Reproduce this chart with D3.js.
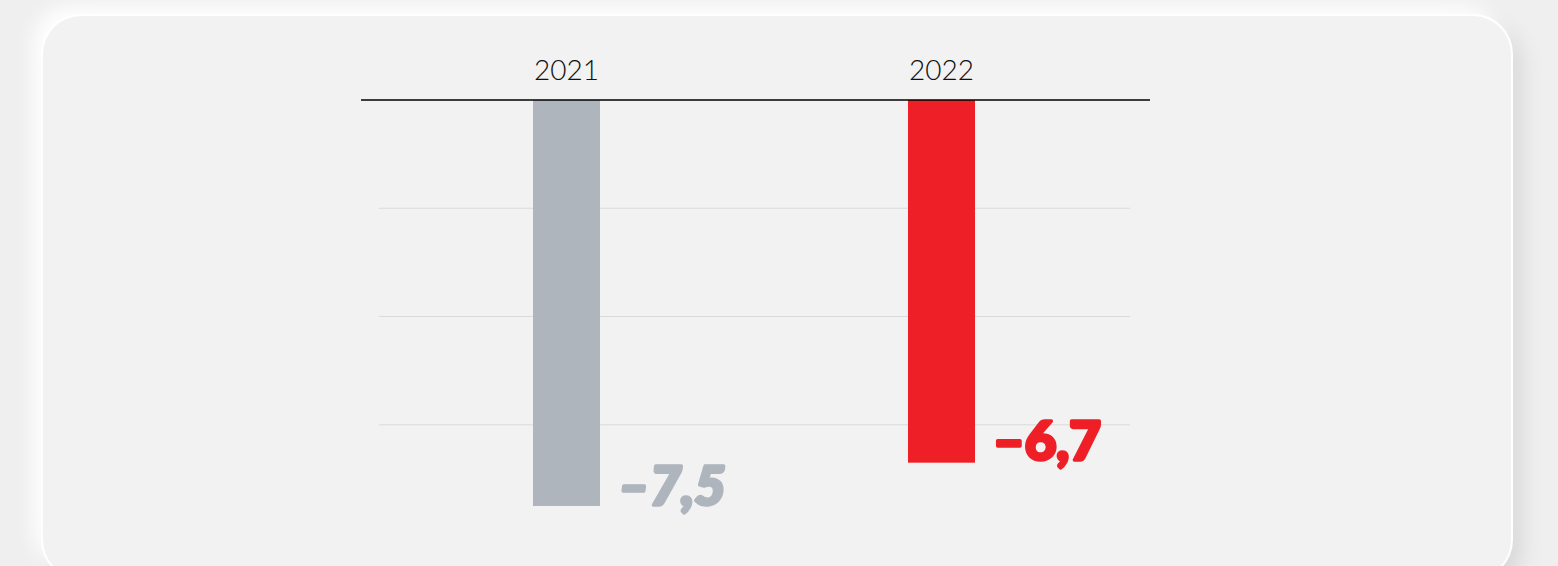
<!DOCTYPE html>
<html>
<head>
<meta charset="utf-8">
<script src="https://cdn.jsdelivr.net/npm/d3@7/dist/d3.min.js"></script>
<style>
  html, body { margin: 0; padding: 0; background: #efefef; overflow: hidden; }
  .panel {
    position: absolute; left: 43px; top: 16px; width: 1468px; height: 562px;
    background: #f2f2f2; border-radius: 38px;
    box-shadow: 0 0 0 2px #ffffff, -10px -10px 20px #ffffff, 10px 10px 22px #d6d6d6;
  }
  svg { position: absolute; left: 0; top: 0; }
</style>
</head>
<body>
<div class="panel"></div>
<svg id="chart" width="1558" height="566"></svg>
<script>
// Annual change, percent
const years = ["2021", "2022"];
const values = [-7.5, -6.7];
const barColors = ["#aeb5bd", "#ee1f26"];
const labelText = ["–7,5", "–6,7"];
const gridValues = [-2, -4, -6];

const svg = d3.select("#chart");

const x = d3.scaleBand()
  .domain(years)
  .range([379, 1129])
  .paddingInner(0.8213)
  .paddingOuter(0.4107);

const y = d3.scaleLinear()
  .domain([0, -8])
  .range([100, 100 + 8 * 54.13]);

// horizontal gridlines
svg.append("g")
  .selectAll("line")
  .data(gridValues)
  .join("line")
  .attr("x1", 379).attr("x2", 1130)
  .attr("y1", d => y(d)).attr("y2", d => y(d))
  .attr("stroke", "#dadada")
  .attr("stroke-width", 1);

// bars hanging from the zero line
svg.append("g")
  .selectAll("rect")
  .data(years)
  .join("rect")
  .attr("x", d => x(d))
  .attr("y", y(0))
  .attr("width", x.bandwidth())
  .attr("height", (d, i) => y(values[i]) - y(0))
  .attr("fill", (d, i) => barColors[i]);

// zero line with year labels on top
const axis = d3.axisTop(x).tickSize(0).tickPadding(20);
const gAxis = svg.append("g")
  .attr("transform", `translate(0,${y(0)})`)
  .call(axis);
gAxis.select(".domain").remove();
gAxis.selectAll("text")
  .attr("font-family", "'Lato', sans-serif")
  .attr("font-weight", 300)
  .attr("font-size", 28)
  .attr("fill", "#111");
svg.append("line")
  .attr("x1", 361).attr("x2", 1150)
  .attr("y1", y(0)).attr("y2", y(0))
  .attr("stroke", "#000")
  .attr("stroke-width", 1.3);

// value labels next to the bar ends, set heavy
svg.append("g")
  .selectAll("text")
  .data(years)
  .join("text")
  .attr("x", d => x(d) + x.bandwidth() + 18)
  .attr("y", (d, i) => y(values[i]) - (i === 0 ? 1 : 3))
  .attr("font-family", "'Lato', sans-serif")
  .attr("font-weight", 900)
  .attr("font-style", (d, i) => i === 0 ? "italic" : "normal")
  .attr("font-size", 54)
  .attr("textLength", 108)
  .attr("lengthAdjust", "spacingAndGlyphs")
  .attr("fill", (d, i) => barColors[i])
  .attr("stroke", (d, i) => barColors[i])
  .attr("stroke-width", 3.5)
  .attr("stroke-linejoin", "round")
  .text((d, i) => labelText[i]);
</script>
</body>
</html>
